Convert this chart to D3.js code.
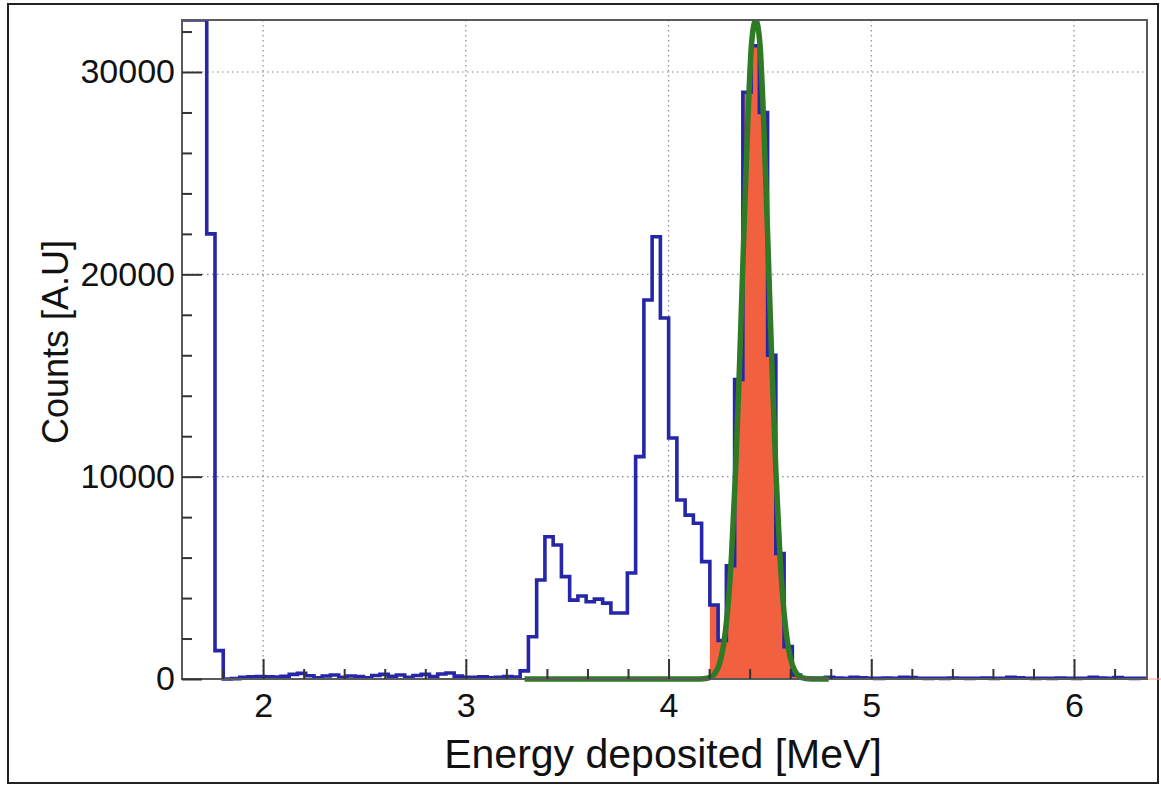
<!DOCTYPE html>
<html>
<head>
<meta charset="utf-8">
<script src="https://cdn.jsdelivr.net/npm/d3@7"></script>
<style>
  body { margin: 0; background: #fff; }
  svg { display: block; }
  text { font-family: "Liberation Sans", Arial, Helvetica, sans-serif; fill: #111; }
</style>
</head>
<body>
<svg width="1161" height="786"></svg>
<script>
// histogram: 117 bins of equal width between 1.6 and 6.36 MeV
const binStart = 1.6
const binWidth = 4.76 / 117
const counts = [
  45000, 45000, 45000, 22000, 1400, 0, 20, 90, 110, 120,
  110, 100, 130, 230, 280, 160, 60, 150, 200, 90,
  150, 120, 60, 170, 230, 130, 200, 80, 170, 230,
  120, 250, 300, 140, 90, 80, 110, 60, 80, 120,
  100, 400, 2090, 4890, 7030, 6620, 5060, 3900, 4100, 3820,
  3950, 3750, 3260, 3260, 5240, 10990, 18730, 21860, 17840, 11910,
  8850, 8100, 7700, 5800, 3660, 1900, 5600, 14800, 29000, 31300,
  28000, 16000, 6200, 1600, 200, 60, 30, 40, 80, 50,
  40, 90, 60, 40, 30, 50, 40, 90, 70, 40,
  30, 40, 30, 50, 40, 30, 40, 50, 30, 40,
  80, 60, 40, 30, 40, 30, 50, 40, 30, 40,
  90, 50, 40, 70, 40, 30, 40
]

// shaded region of the histogram (MeV)
const fillRange = [4.2, 4.85]

// fitted peak (green curve)
const fitEnergy = [3.29, 4.13, 4.15, 4.17, 4.19, 4.21, 4.23, 4.25, 4.27, 4.29, 4.31,
  4.33, 4.35, 4.37, 4.39, 4.41, 4.43, 4.45, 4.47, 4.49, 4.51, 4.53,
  4.55, 4.57, 4.59, 4.61, 4.63, 4.65, 4.67, 4.69, 4.71, 4.73, 4.79]
const fitCounts = [0, 0, 3, 11, 36, 107, 291, 714, 1595, 3245, 6000,
  10110, 15480, 21550, 27310, 31470, 33000, 31470, 27310, 21550, 15480, 10110,
  6000, 3245, 1595, 714, 291, 107, 36, 11, 3, 0, 0]

const xMajor = [2, 3, 4, 5, 6]
const xMinor = [1.8, 2.2, 2.4, 2.6, 2.8, 3.2, 3.4, 3.6, 3.8, 4.2, 4.4, 4.6, 4.8,
  5.2, 5.4, 5.6, 5.8, 6.2]
const yMajor = [0, 10000, 20000, 30000]
const yMinor = [2000, 4000, 6000, 8000, 12000, 14000, 16000, 18000, 22000, 24000,
  26000, 28000, 32000]

const blue = '#2626a8'
const green = '#2e7a25'
const red = '#f2613f'

const svg = d3.select('svg')
const width = +svg.attr('width')
const height = +svg.attr('height')

const margin = { top: 20, right: 14, bottom: 107, left: 182 }

const xScale = d3.scaleLinear()
    .domain([1.6, 6.36])
    .range([margin.left, width - margin.right])

const yScale = d3.scaleLinear()
    .domain([0, 32570])
    .range([height - margin.bottom, margin.top])
    .clamp(true)

const plotBottom = height - margin.bottom

// outer border of the figure
svg.append('rect')
    .attr('x', 8).attr('y', 4)
    .attr('width', 1150).attr('height', 779)
    .attr('fill', 'none')
    .attr('stroke', '#222')
    .attr('stroke-width', 2)

// lines may spill a few pixels under the frame bottom, like the original
svg.append('clipPath').attr('id', 'plot-clip')
  .append('rect')
    .attr('x', margin.left).attr('y', margin.top)
    .attr('width', width - margin.right - margin.left)
    .attr('height', plotBottom - margin.top + 3)

// dotted grid
let grid = svg.append('g').attr('class', 'grid')
    .attr('stroke', '#8a8a8a')
    .attr('stroke-width', 1.2)
    .attr('stroke-dasharray', '1.5 3.5')

grid.selectAll('line.gx').data(xMajor).enter()
    .append('line')
    .attr('x1', d => xScale(d)).attr('x2', d => xScale(d))
    .attr('y1', margin.top).attr('y2', plotBottom)

grid.selectAll('line.gy').data(yMajor.slice(1)).enter()
    .append('line')
    .attr('x1', margin.left).attr('x2', width - margin.right)
    .attr('y1', d => yScale(d)).attr('y2', d => yScale(d))

let bins = counts.map((c, i) => ({ e: binStart + i * binWidth, c: c }))
let stepPoints = bins.concat([{ e: binStart + counts.length * binWidth, c: counts[counts.length - 1] }])

let plot = svg.append('g').attr('clip-path', 'url(#plot-clip)')

// shaded part of the spectrum
let shaded = stepPoints.filter(d => d.e >= fillRange[0] - 1e-6 && d.e <= fillRange[1])
plot.append('path')
    .datum(shaded)
    .attr('fill', red)
    .attr('d', d3.area()
        .curve(d3.curveStepAfter)
        .x(d => xScale(d.e))
        .y0(yScale(0))
        .y1(d => yScale(d.c)))

// histogram outline
plot.append('path')
    .datum(stepPoints)
    .attr('fill', 'none')
    .attr('stroke', blue)
    .attr('stroke-width', 3.6)
    .attr('stroke-linejoin', 'miter')
    .attr('d', d3.line()
        .curve(d3.curveStepAfter)
        .x(d => xScale(d.e))
        .y(d => yScale(d.c)))

// fit curve
let fit = fitEnergy.map((e, i) => ({ e: e, c: fitCounts[i] }))
plot.append('path')
    .datum(fit)
    .attr('fill', 'none')
    .attr('stroke', green)
    .attr('stroke-width', 5.5)
    .attr('stroke-linejoin', 'round')
    .attr('d', d3.line()
        .curve(d3.curveMonotoneX)
        .x(d => xScale(d.e))
        .y(d => yScale(d.c)))

// frame
svg.append('rect')
    .attr('x', margin.left).attr('y', margin.top)
    .attr('width', width - margin.right - margin.left)
    .attr('height', plotBottom - margin.top)
    .attr('fill', 'none')
    .attr('stroke', '#5a5a5a')
    .attr('stroke-width', 2)

// faint zero line past the frame
svg.append('line')
    .attr('x1', width - margin.right + 1).attr('x2', width)
    .attr('y1', plotBottom).attr('y2', plotBottom)
    .attr('stroke', '#f4a090').attr('stroke-width', 1)

// axes, ticks drawn inwards
let xAxis = d3.axisBottom(xScale)
    .tickValues(xMajor)
    .tickFormat(d3.format('d'))
    .tickSizeInner(-20)
    .tickSizeOuter(0)
    .tickPadding(14)

let xAxisMinor = d3.axisBottom(xScale)
    .tickValues(xMinor)
    .tickFormat('')
    .tickSizeInner(-10)
    .tickSizeOuter(0)

let yAxis = d3.axisLeft(yScale)
    .tickValues(yMajor)
    .tickFormat(d3.format('d'))
    .tickSizeInner(-20)
    .tickSizeOuter(0)
    .tickPadding(7)

let yAxisMinor = d3.axisLeft(yScale)
    .tickValues(yMinor)
    .tickFormat('')
    .tickSizeInner(-10)
    .tickSizeOuter(0)

let styleAxis = (g) => {
    g.select('.domain').remove()
    g.selectAll('.tick line').attr('stroke', '#333').attr('stroke-width', 2)
    g.selectAll('.tick text')
        .style('font-size', '34px')
        .attr('fill', '#111')
}

svg.append('g')
    .attr('id', 'x-axis')
    .attr('transform', 'translate(0, ' + plotBottom + ')')
    .call(xAxis)
    .call(styleAxis)

svg.append('g')
    .attr('transform', 'translate(0, ' + plotBottom + ')')
    .call(xAxisMinor)
    .call(styleAxis)

svg.append('g')
    .attr('id', 'y-axis')
    .attr('transform', 'translate(' + margin.left + ', 0)')
    .call(yAxis)
    .call(styleAxis)

svg.append('g')
    .attr('transform', 'translate(' + margin.left + ', 0)')
    .call(yAxisMinor)
    .call(styleAxis)

// axis titles
svg.append('text')
    .attr('x', 663)
    .attr('y', 768)
    .style('text-anchor', 'middle')
    .style('font-size', '41px')
    .text('Energy deposited [MeV]')

svg.append('text')
    .attr('transform', 'translate(68, 342) rotate(-90)')
    .style('text-anchor', 'middle')
    .style('font-size', '36px')
    .text('Counts [A.U]')
</script>
</body>
</html>
